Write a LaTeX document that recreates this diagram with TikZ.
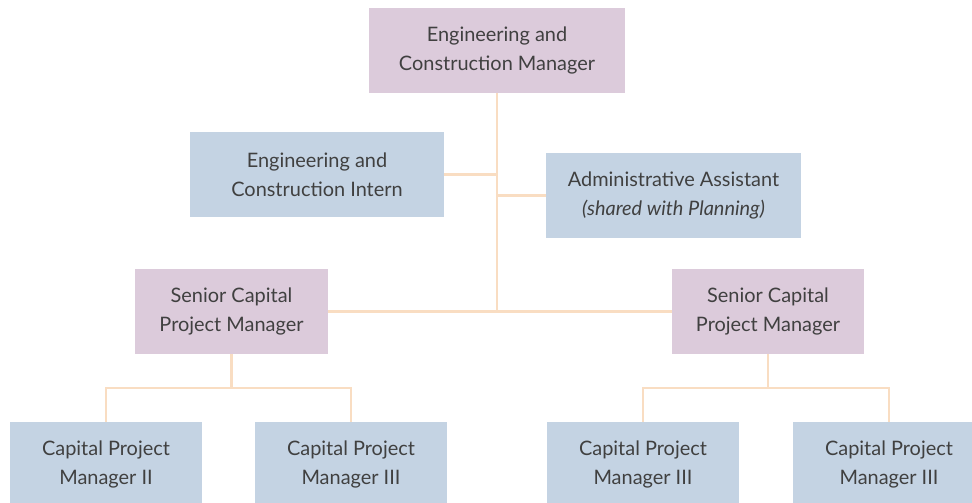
\documentclass[tikz,border=0pt]{standalone}
\usepackage{fontspec}
\setmainfont{Lato}
\definecolor{purplebox}{HTML}{DCCBDB}
\definecolor{bluebox}{HTML}{C4D3E3}
\definecolor{linkc}{HTML}{F9DDC2}
\definecolor{txt}{HTML}{404040}
\begin{document}
\begin{tikzpicture}[x=1bp,y=-1bp,
  box/.style={minimum height=85bp, inner sep=0pt, align=center, text=txt,
    font=\fontsize{20}{29}\selectfont},
  pbox/.style={box, fill=purplebox},
  bbox/.style={box, fill=bluebox},
  link/.style={draw=linkc, line width=2.6bp}]
\useasboundingbox (0,0) rectangle (972,503);
\begin{scope}
\clip (0,0) rectangle (972,503);
\node[pbox, minimum width=256bp] (top) at (497,50.5) {Engineering and\\Construction Manager};
\node[bbox, minimum width=254bp] (intern) at (317,174.5) {Engineering and\\Construction Intern};
\node[bbox, minimum width=255bp] (admin) at (673.5,195.5) {Administrative Assistant\\\textit{(shared with Planning)}};
\node[pbox, minimum width=193bp] (s1) at (231.5,311.5) {Senior Capital\\Project Manager};
\node[pbox, minimum width=192bp] (s2) at (768,311.5) {Senior Capital\\Project Manager};
\node[bbox, minimum width=192bp] (c1) at (106,464.5) {Capital Project\\Manager II};
\node[bbox, minimum width=192bp] (c2) at (351,464.5) {Capital Project\\Manager III};
\node[bbox, minimum width=192bp] (c3) at (643,464.5) {Capital Project\\Manager III};
\node[bbox, minimum width=192bp] (c4) at (889,464.5) {Capital Project\\Manager III};
\coordinate (trunk) at (top.south |- s1.east);
\coordinate (jl) at (s1.south |- 0,388);
\coordinate (jr) at (s2.south |- 0,388);
\path[link] (top.south) -- (trunk);
\path[link] (intern.east) -- (intern.east -| top.south);
\path[link] (admin.west) -- (admin.west -| top.south);
\path[link] (s1.east) -- (s2.west);
\path[link] (s1.south) -- (jl);
\path[link] (c1.north) |- (jl) -| (c2.north);
\path[link] (s2.south) -- (jr);
\path[link] (c3.north) |- (jr) -| (c4.north);
\end{scope}
\end{tikzpicture}
\end{document}
